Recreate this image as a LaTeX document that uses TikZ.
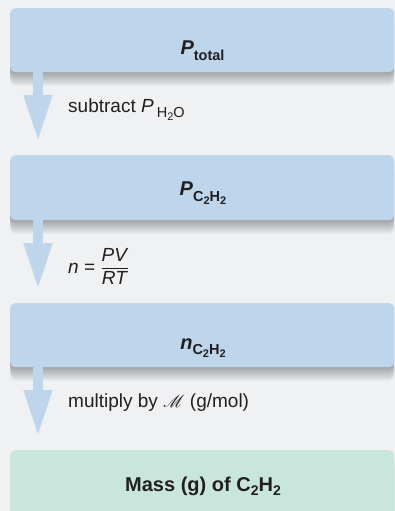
\documentclass[tikz,border=0pt]{standalone}
\usepackage{fontspec}
\setmainfont{Liberation Sans}
\usepackage{amsmath}
\usepackage{mathrsfs}
\usetikzlibrary{arrows.meta}
\definecolor{bg}{HTML}{F0F1F3}
\definecolor{boxblue}{HTML}{BDD6EC}
\definecolor{boxgreen}{HTML}{C8E6DC}
\definecolor{ink}{HTML}{231F20}
\newcommand\mysub[1]{\raisebox{-0.28em}{\fontsize{14.5}{17}\selectfont #1}}
\newcommand\mysubsub[1]{\raisebox{-0.2em}{\fontsize{11}{13}\selectfont #1}}
\newcommand\chemsub[1]{\raisebox{-0.2em}{\fontsize{14}{16}\selectfont #1}}
\tikzset{
  shadowlayer/.style={preaction={fill=black, opacity=0.022, transform canvas={yshift=-#1pt}}},
  stepbox/.style={rectangle, rounded corners=5pt, minimum width=384pt, minimum height=64pt,
    inner sep=0pt, anchor=north west, draw=none,
    shadowlayer=1, shadowlayer=2, shadowlayer=3, shadowlayer=4, shadowlayer=5,
    shadowlayer=6, shadowlayer=7, shadowlayer=8, shadowlayer=9, shadowlayer=10,
    shadowlayer=11, shadowlayer=12, shadowlayer=13, shadowlayer=14},
  bluebox/.style={stepbox, fill=boxblue},
  greenbox/.style={stepbox, fill=boxgreen, minimum height=80pt},
  boxtext/.style={anchor=base, inner sep=0pt, text=ink, font=\fontsize{20}{23}\selectfont\bfseries},
  labeltext/.style={anchor=base west, inner sep=0pt, text=ink, font=\fontsize{19}{23}\selectfont},
  flow/.style={draw=boxblue, line width=10pt, -{Triangle[width=26pt, length=47pt]}}
}
\begin{document}
\begin{tikzpicture}[x=1pt, y=-1pt]
\fill[bg] (0,0) rectangle (395,511);
\useasboundingbox (0,0) rectangle (395,511);
% arrow tips
\coordinate (a1) at (38,142);
\coordinate (a2) at (38,290);
\coordinate (a3) at (38,437);
% boxes
\node[bluebox] (b1) at (10,8) {};
\node[bluebox, minimum height=65pt] (b2) at (10,155) {};
\node[bluebox] (b3) at (10,303) {};
\node[greenbox] (b4) at (10,450) {};
% arrows
\draw[flow] (a1 |- b1.south) -- (a1);
\draw[flow] (a2 |- b2.south) -- (a2);
\draw[flow] (a3 |- b3.south) -- (a3);
% box texts
\node[boxtext] (t1) at (202.5,55) {\textit{P}\mysub{total}};
\node[boxtext] (t2) at (203,195.5) {\textit{P}\mysub{C\mysubsub{2}H\mysubsub{2}}};
\node[boxtext] (t3) at (203,349) {\textit{n}\mysub{C\mysubsub{2}H\mysubsub{2}}};
\node[boxtext] (t4) at (203,491.5) {Mass (g) of C\chemsub{2}H\chemsub{2}};
% labels
\node[labeltext] (l1) at (68,112) {subtract \textit{P}\,\mysub{H\mysubsub{2}O}};
\node[labeltext] (l2) at (68,273) {\textit{n} = $\dfrac{\text{\textit{PV}}}{\text{\textit{RT}}}$};
\node[labeltext] (l3) at (68,407) {multiply by $\mathscr{M}$ (g/mol)};
\end{tikzpicture}
\end{document}
